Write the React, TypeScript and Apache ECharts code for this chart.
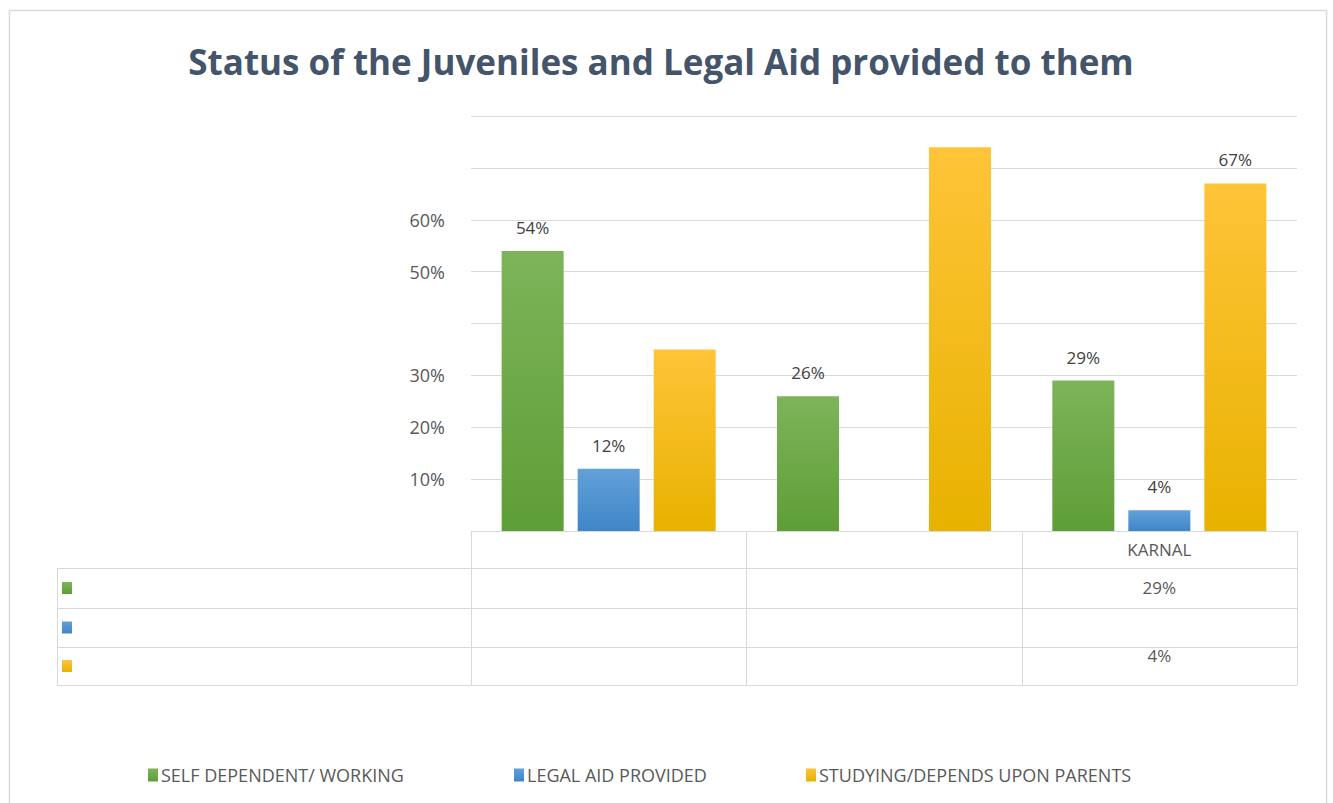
import React, { useEffect, useRef } from "react";
import * as echarts from "echarts";

const categories = ["", "", "KARNAL"];
const seriesNames = ["SELF DEPENDENT/ WORKING", "LEGAL AID PROVIDED", "STUDYING/DEPENDS UPON PARENTS"];
const selfDependent = [54, 26, 29];
const legalAid = [12, null, 4];
const studying = [35, 74, 67];
// which bar labels are visible in the picture
const selfLabelShown = [true, true, true];
const legalLabelShown = [true, false, true];
const studyLabelShown = [false, false, true];
const yTickLabelsShown = [10, 20, 30, 50, 60];
// data table cells (row per series, col per category)
const tableSelf = ["", "", "29%"];
const tableLegal = ["", "", ""];
const tableStudy = ["", "", "4%"];

const gradTop = ["#7db45a", "#62a0d8", "#ffc438"];
const gradBottom = ["#5e9e36", "#3f86c8", "#e8b200"];

const GRID_L = 471, GRID_R = 1297, GRID_T = 116, GRID_B = 531;
const ROWS = [531, 568, 608, 647, 685];
const TABLE_L = 57;

function grad(i: number) {
  return new echarts.graphic.LinearGradient(0, 0, 0, 1, [
    { offset: 0, color: gradTop[i] },
    { offset: 1, color: gradBottom[i] },
  ]);
}

export default function App() {
  const ref = useRef<HTMLDivElement>(null);
  useEffect(() => {
    document.body.style.margin = "0";
    const chart = echarts.init(ref.current!, null, { renderer: "svg" });
    const font = "'Open Sans', sans-serif";
    const labelStyle = { show: true, position: "top", distance: 15, color: "#404040", fontSize: 17, fontFamily: font, formatter: "{c}%" };
    const mk = (vals: (number | null)[], shown: boolean[]) =>
      vals.map((v, i) => (v === null ? "-" : { value: v, label: { show: shown[i] } }));

    const colW = (GRID_R - GRID_L) / categories.length;
    const graphics: any[] = [];
    const line = (x1: number, y1: number, x2: number, y2: number) =>
      graphics.push({ type: "line", shape: { x1, y1, x2, y2 }, style: { stroke: "#d9d9d9", lineWidth: 1 }, silent: true });
    // outer chart border
    graphics.push({ type: "rect", shape: { x: 9.5, y: 10.5, width: 1317, height: 800 }, style: { fill: "none", stroke: "#d9d9d9", lineWidth: 1.5 }, silent: true });
    // table horizontal lines
    for (let r = 1; r < ROWS.length; r++) line(TABLE_L, ROWS[r] + 0.5, GRID_R, ROWS[r] + 0.5);
    // verticals
    line(TABLE_L + 0.5, ROWS[1], TABLE_L + 0.5, ROWS[4]);
    for (let c = 0; c <= categories.length; c++) {
      const x = Math.round(GRID_L + c * colW) + 0.5;
      line(x, ROWS[0], x, ROWS[4]);
    }
    // legend keys in table
    for (let r = 0; r < 3; r++) {
      graphics.push({ type: "rect", shape: { x: 62, y: (ROWS[r + 1] + ROWS[r + 2]) / 2 - 6, width: 10, height: 12 }, style: { fill: grad(r) }, silent: true });
    }
    const txt = (s: string, x: number, y: number) =>
      graphics.push({ type: "text", x, y, style: { text: s, fill: "#595959", fontSize: 17, fontFamily: font, align: "center", verticalAlign: "middle" }, silent: true });
    categories.forEach((c, i) => {
      const cx = GRID_L + (i + 0.5) * colW;
      if (c) txt(c, cx, 549);
      if (tableSelf[i]) txt(tableSelf[i], cx, 587);
      if (tableLegal[i]) txt(tableLegal[i], cx, 627);
      if (tableStudy[i]) txt(tableStudy[i], cx, 655);
    });

    const legendPos = [143, 509, 801];
    chart.setOption({
      animation: false,
      title: {
        text: "Status of the Juveniles and Legal Aid provided to them",
        left: 656, top: 39, textAlign: "center",
        textStyle: { fontSize: 35, fontWeight: "bold", color: "#44546a", fontFamily: font },
      },
      grid: { left: GRID_L, right: 1333 - GRID_R, top: GRID_T, bottom: 803 - GRID_B, containLabel: false },
      legend: seriesNames.map((n, i) => ({
        data: [n], left: legendPos[i], top: 761, itemWidth: 10, itemHeight: 13, itemGap: 4,
        icon: "rect", selectedMode: false,
        textStyle: { color: "#595959", fontSize: 18, fontFamily: font, padding: [0, 0, 0, -2] },
      })),
      xAxis: {
        type: "category", data: categories,
        axisLine: { show: false }, axisTick: { show: false }, axisLabel: { show: false },
      },
      yAxis: {
        type: "value", min: 0, max: 80, interval: 10,
        axisLine: { show: false }, axisTick: { show: false },
        splitLine: { lineStyle: { color: "#d9d9d9" } },
        axisLabel: {
          margin: 26, color: "#595959", fontSize: 18, fontFamily: font,
          formatter: (v: number) => (yTickLabelsShown.includes(v) ? v + "%" : ""),
        },
      },
      series: [
        { name: seriesNames[0], type: "bar", data: mk(selfDependent, selfLabelShown), barWidth: 62, barGap: "22.6%", itemStyle: { color: grad(0) }, label: labelStyle },
        { name: seriesNames[1], type: "bar", data: mk(legalAid, legalLabelShown), barWidth: 62, barGap: "22.6%", itemStyle: { color: grad(1) }, label: labelStyle },
        { name: seriesNames[2], type: "bar", data: mk(studying, studyLabelShown), barWidth: 62, barGap: "22.6%", itemStyle: { color: grad(2) }, label: labelStyle },
      ],
      graphic: graphics,
    });
    return () => chart.dispose();
  }, []);
  return <div ref={ref} style={{ width: 1333, height: 803 }} />;
}
